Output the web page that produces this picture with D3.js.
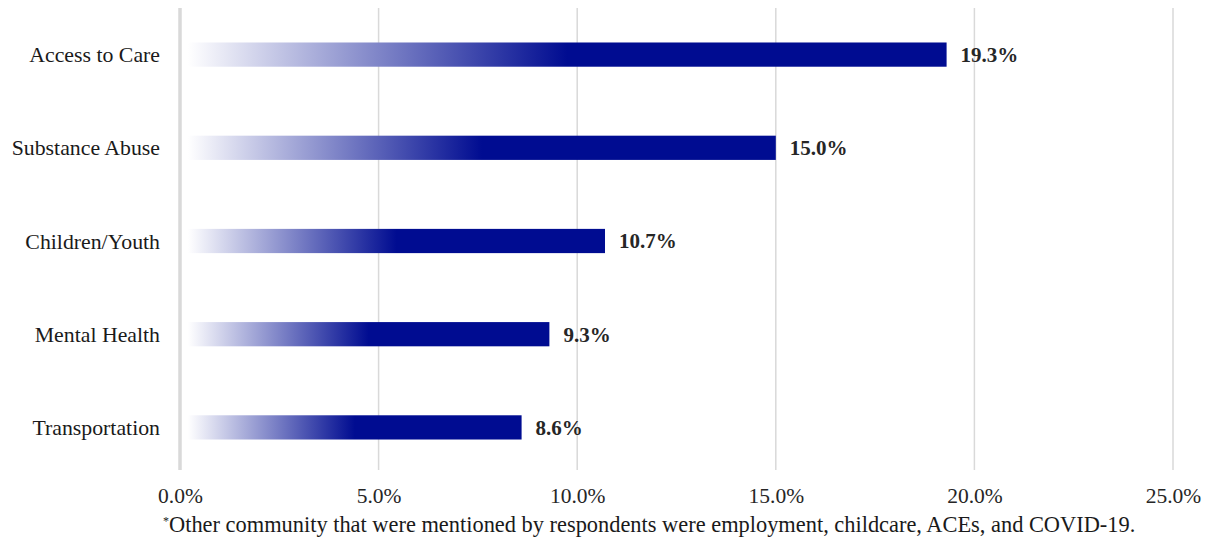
<!DOCTYPE html>
<html><head><meta charset="utf-8">
<script src="https://cdn.jsdelivr.net/npm/d3@7"></script>
<style>body{margin:0;background:#fff;} svg{display:block;} text, tspan{font-family:'Liberation Serif','DejaVu Serif',serif;}</style>
</head><body>
<svg id="c" width="1210" height="541"></svg>
<script>
const categories = ["Access to Care","Substance Abuse","Children/Youth","Mental Health","Transportation"];
const values = [19.3, 15.0, 10.7, 9.3, 8.6];
const tickValues = [0,5,10,15,20,25];
const footnote = "Other community that were mentioned by respondents were employment, childcare, ACEs, and COVID-19.";

const svg = d3.select("#c");
const x = d3.scaleLinear().domain([0,25]).range([180,1173]);
const y = d3.scaleBand().domain(categories).range([8,474]).paddingInner(0.74).paddingOuter(0.37);

// gradient
const defs = svg.append("defs");
const g = defs.append("linearGradient").attr("id","barGrad").attr("x1","0").attr("x2","1").attr("y1","0").attr("y2","0");
g.append("stop").attr("offset","0%").attr("stop-color","#ffffff");
g.append("stop").attr("offset","50%").attr("stop-color","#000c91");
g.append("stop").attr("offset","100%").attr("stop-color","#000c91");

// gridlines
svg.append("g").selectAll("line").data(tickValues.slice(1)).join("line")
  .attr("x1",d=>x(d)).attr("x2",d=>x(d)).attr("y1",8).attr("y2",470)
  .attr("stroke","#d9d9d9").attr("stroke-width",1.5);
svg.append("line").attr("x1",x(0)).attr("x2",x(0)).attr("y1",8).attr("y2",470)
  .attr("stroke","#d9d9d9").attr("stroke-width",3.5);

// bars
const barStart = x(0)+8;
svg.append("g").selectAll("rect").data(values).join("rect")
  .attr("x",barStart).attr("y",(d,i)=>y(categories[i]))
  .attr("width",d=>x(d)-barStart).attr("height",y.bandwidth())
  .attr("fill","url(#barGrad)");

// value labels
svg.append("g").selectAll("text").data(values).join("text")
  .attr("x",d=>x(d)+14).attr("y",(d,i)=>y(categories[i])+y.bandwidth()/2)
  .attr("dy","0.35em").attr("font-size",21).attr("font-weight","bold")
  .attr("fill","#262626").text(d=>d.toFixed(1)+"%");

// category labels
svg.append("g").selectAll("text").data(categories).join("text")
  .attr("x",160).attr("y",d=>y(d)+y.bandwidth()/2).attr("dy","0.35em")
  .attr("text-anchor","end").attr("font-size",21.8)
  .attr("fill","#1a1a1a").text(d=>d);

// x axis tick labels
const ax = svg.append("g").attr("transform","translate(0,495)")
  .call(d3.axisBottom(x).tickValues(tickValues).tickFormat(d=>d.toFixed(1)+"%").tickSize(0));
ax.select(".domain").remove();
ax.attr("font-family",null).attr("font-size",null);
ax.selectAll("text").attr("font-size",21.5).attr("fill","#262626").attr("dy","0.25em");

// footnote
const fn = svg.append("text").attr("x",163).attr("y",532).attr("font-size",22.4).attr("fill","#1a1a1a");
fn.append("tspan").attr("font-size",12).attr("dy","-7").text("*");
fn.append("tspan").attr("dy","7").text(footnote);
</script>
</body></html>
